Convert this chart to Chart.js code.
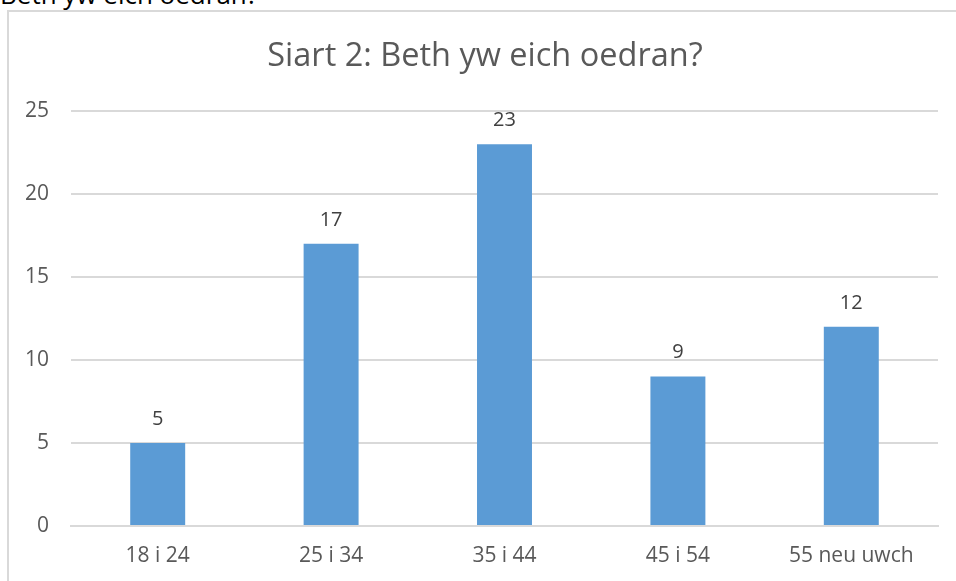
<!DOCTYPE html>
<html>
<head>
<meta charset="utf-8">
<script src="https://cdn.jsdelivr.net/npm/chart.js@4/dist/chart.umd.min.js"></script>
<style>
  html, body { margin: 0; padding: 0; background: #fff; width: 956px; height: 581px; overflow: hidden; }
  #heading { position: absolute; left: 0px; top: -21px; font-family: "Open Sans", sans-serif; font-size: 26px; line-height: 30px; color: #000; white-space: nowrap; }
  #frame { position: absolute; left: 7px; top: 10px; width: 1000px; height: 700px; border: 2px solid #d9d9d9; box-sizing: border-box; }
  #wrap { position: absolute; left: 0; top: 0; width: 956px; height: 581px; }
</style>
</head>
<body>
<div id="heading">Beth yw eich oedran?</div>
<div id="frame"></div>
<div id="wrap"><canvas id="c" width="956" height="581"></canvas></div>
<script>
const categories = ["18 i 24", "25 i 34", "35 i 44", "45 i 54", "55 neu uwch"];
const values = [5, 17, 23, 9, 12];
const yTicks = [0, 5, 10, 15, 20, 25];
const titleText = "Siart 2: Beth yw eich oedran?";

const FONT = '"Open Sans", sans-serif';

const valueLabels = {
  id: 'valueLabels',
  afterDatasetsDraw(chart) {
    const ctx = chart.ctx;
    const meta = chart.getDatasetMeta(0);
    ctx.save();
    ctx.font = '20px ' + FONT;
    ctx.fillStyle = '#404040';
    ctx.textAlign = 'center';
    ctx.textBaseline = 'middle';
    meta.data.forEach((bar, i) => {
      ctx.fillText(String(values[i]), bar.x, bar.y - 24);
    });
    ctx.restore();
  }
};

const chartTitle = {
  id: 'chartTitle',
  afterDraw(chart) {
    const ctx = chart.ctx;
    ctx.save();
    ctx.font = '32.5px ' + FONT;
    ctx.fillStyle = '#595959';
    ctx.textAlign = 'center';
    ctx.textBaseline = 'middle';
    ctx.fillText(titleText, 485, 57);
    ctx.restore();
  }
};

new Chart(document.getElementById('c'), {
  type: 'bar',
  data: {
    labels: categories,
    datasets: [{
      data: values,
      backgroundColor: '#5b9bd5',
      borderWidth: 0,
      categoryPercentage: 1,
      barPercentage: 0.317
    }]
  },
  options: {
    responsive: false,
    animation: false,
    devicePixelRatio: 1,
    layout: { padding: { left: 0, right: 18, top: 111, bottom: 0 } },
    plugins: {
      legend: { display: false },
      tooltip: { enabled: false },
      title: { display: false }
    },
    scales: {
      x: {
        afterFit(scale) { scale.height = 55; },
        grid: { display: false, drawTicks: false },
        border: { display: true, color: '#d9d9d9', width: 2 },
        ticks: { color: '#595959', font: { family: FONT, size: 21 }, padding: 17 }
      },
      y: {
        min: 0,
        max: 25,
        afterBuildTicks(scale) { scale.ticks = yTicks.map(v => ({ value: v })); },
        afterFit(scale) { scale.width = 71; },
        grid: { color: '#d9d9d9', lineWidth: 2, drawTicks: false },
        border: { display: false },
        ticks: { color: '#595959', font: { family: FONT, size: 21 }, padding: 22 }
      }
    }
  },
  plugins: [valueLabels, chartTitle]
});
</script>
</body>
</html>
